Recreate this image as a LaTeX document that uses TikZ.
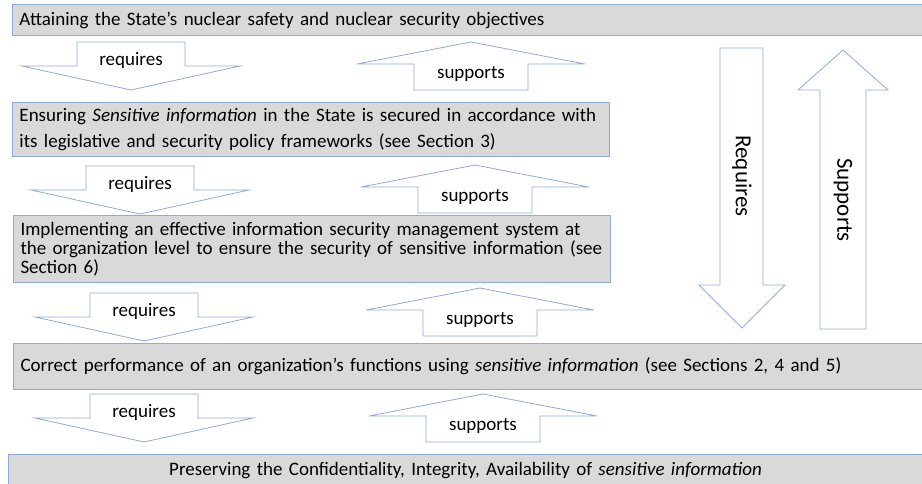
\documentclass[tikz,border=0pt]{standalone}
\usepackage{fontspec}
\setmainfont{Carlito}
\usetikzlibrary{positioning}

\definecolor{boxline}{RGB}{143,170,220}
\definecolor{boxfill}{RGB}{217,217,217}

\tikzset{
  levelbox/.style={draw=boxline, fill=boxfill, line width=1pt, anchor=north west, inner xsep=7pt, inner ysep=0pt, align=left, font=\fontsize{19}{24}\selectfont},
  blockarrow/.style={draw=boxline, fill=white, line width=0.8pt, line join=miter},
  arrowlabel/.style={font=\fontsize{19}{20}\selectfont, inner sep=0pt, anchor=base},
  biglabel/.style={font=\fontsize{23}{24}\selectfont, rotate=-90},
}

%% down arrow: name, centre x, top y, label
\newcommand{\reqarrow}[4]{%
  \draw[blockarrow] (#2-54,#3) -- (#2+54,#3) -- (#2+54,#3+24) -- (#2+109,#3+24) -- (#2,#3+48) -- (#2-109,#3+24) -- (#2-54,#3+24) -- cycle;
  \node[arrowlabel] (#1) at (#2,#3+23) {#4};
}
%% up arrow: name, centre x, tip y, label
\newcommand{\suparrow}[4]{%
  \draw[blockarrow] (#2,#3) -- (#2+114,#3+22) -- (#2+57,#3+22) -- (#2+57,#3+48) -- (#2-57,#3+48) -- (#2-57,#3+22) -- (#2-114,#3+22) -- cycle;
  \node[arrowlabel] (#1) at (#2,#3+36) {#4};
}

\begin{document}
\begin{tikzpicture}[x=1pt, y=-1pt]
    \useasboundingbox (0,0) rectangle (922,483);

    %% levels
    \node[levelbox, minimum width=910, minimum height=31, text width=896] (goal) at (12,4)
        {Attaining the State's nuclear safety and nuclear security objectives};
    \node[levelbox, minimum width=597, minimum height=54, text width=583, font=\fontsize{19}{26}\selectfont] (state) at (12,102)
        {Ensuring \textit{Sensitive information} in the State is secured in accordance with\\its legislative and security policy frameworks (see Section 3)};
    \node[levelbox, minimum width=597, minimum height=67, text width=583, font=\fontsize{19}{19}\selectfont] (isms) at (13,215)
        {Implementing an effective information security management system at\\the organization level to ensure the security of sensitive information (see\\Section 6)};
    \node[levelbox, minimum width=909, minimum height=46, text width=895] (perf) at (13,343)
        {Correct performance of an organization's functions using \textit{sensitive information} (see Sections 2, 4 and 5)};
    \node[levelbox, minimum width=914, minimum height=33, text width=900, align=center] (cia) at (8,454)
        {Preserving the Confidentiality, Integrity, Availability of \textit{sensitive information}};

    %% requires / supports between levels
    \reqarrow{req1}{131}{42}{requires}
    \suparrow{sup1}{471}{42}{supports}
    \reqarrow{req2}{140}{166}{requires}
    \suparrow{sup2}{475}{165}{supports}
    \reqarrow{req3}{144}{293}{requires}
    \suparrow{sup3}{480}{288}{supports}
    \reqarrow{req4}{144}{394}{requires}
    \suparrow{sup4}{483}{394}{supports}

    %% overall arrows
    \draw[blockarrow] (720,48) -- (763,48) -- (763,285) -- (785,285) -- (742,328) -- (699,285) -- (720,285) -- cycle;
    \node[biglabel] (bigreq) at (742,176) {Requires};
    \draw[blockarrow] (843,50) -- (888,90) -- (866,90) -- (866,329) -- (820,329) -- (820,90) -- (798,90) -- cycle;
    \node[biglabel] (bigsup) at (843,200) {Supports};
\end{tikzpicture}
\end{document}
